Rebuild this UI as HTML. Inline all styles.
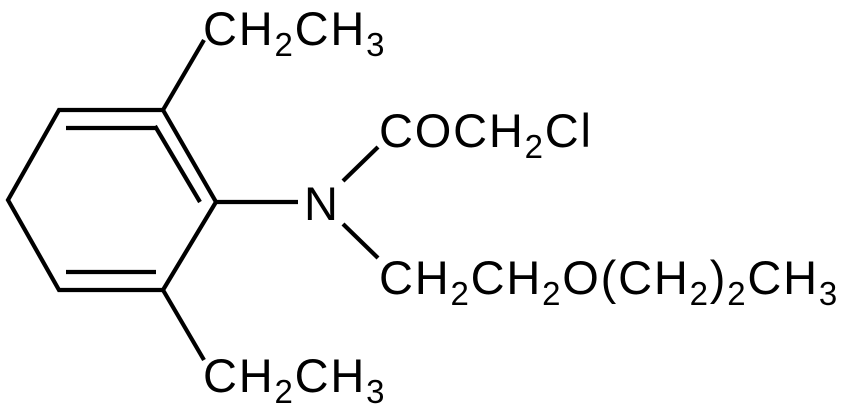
<!DOCTYPE html>
<html><head><style>
html,body{margin:0;padding:0;background:#fff;}
svg{display:block;}
text{font-family:"Liberation Sans",Arial,sans-serif;font-size:47px;fill:#000;letter-spacing:1.8px;}
tspan.s{font-size:33px;}
</style></head><body>
<svg width="843" height="414" viewBox="0 0 843 414" xmlns="http://www.w3.org/2000/svg">
<g stroke="#000" stroke-width="4.2" fill="none" stroke-linecap="butt">
<polyline points="163,110 59,110 8,200 59,290 163,290 216,202 163,110"/>
<line x1="66" y1="128" x2="156" y2="128"/>
<line x1="66" y1="272" x2="156" y2="272"/>
<line x1="155" y1="126" x2="200" y2="202"/>
<line x1="163" y1="110" x2="204" y2="40"/>
<line x1="163" y1="290" x2="204" y2="360"/>
<line x1="216" y1="202" x2="298" y2="202"/>
<line x1="343" y1="181" x2="378" y2="147"/>
<line x1="343" y1="224" x2="378" y2="258"/>
</g>
<text x="203" y="45">CH<tspan class="s" dy="11">2</tspan><tspan dy="-11">CH</tspan><tspan class="s" dy="11">3</tspan></text>
<text x="203" y="392">CH<tspan class="s" dy="11">2</tspan><tspan dy="-11">CH</tspan><tspan class="s" dy="11">3</tspan></text>
<text x="304" y="220">N</text>
<text x="379" y="147">COCH<tspan class="s" dy="11">2</tspan><tspan dy="-11">Cl</tspan></text>
<text x="379" y="294">CH<tspan class="s" dy="11">2</tspan><tspan dy="-11">CH</tspan><tspan class="s" dy="11">2</tspan><tspan dy="-11">O(CH</tspan><tspan class="s" dy="11">2</tspan><tspan dy="-11">)</tspan><tspan class="s" dy="11">2</tspan><tspan dy="-11">CH</tspan><tspan class="s" dy="11">3</tspan></text>
</svg>
</body></html>
